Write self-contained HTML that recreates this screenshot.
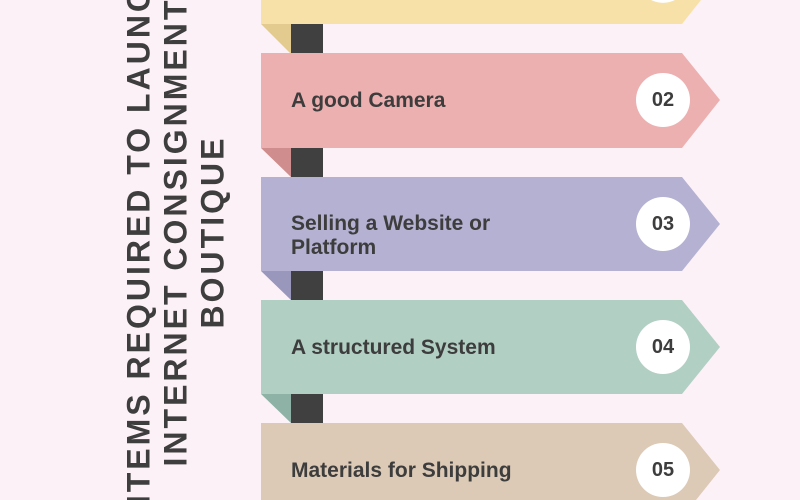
<!DOCTYPE html>
<html style="overflow:hidden;width:800px;height:500px"><head><style>
body{margin:0;width:800px;height:500px;overflow:hidden;background:#fdf1f8;font-family:"Liberation Sans",sans-serif}
.wrap{position:relative;width:800px;height:500px;overflow:hidden}
.t{position:absolute;left:291px;top:0;width:32px;height:500px;background:#404040}
.title{position:absolute;left:176px;top:232px;width:600px;transform:translate(-50%,-50%) rotate(-90deg);text-align:center;font-weight:bold;font-size:32px;line-height:37px;letter-spacing:3px;color:#3e3e3e;white-space:nowrap}
.lbl{position:absolute;left:291px;font-weight:bold;font-size:21px;color:#3d3d3d;line-height:24px}
.num{position:absolute;width:54px;height:54px;border-radius:50%;background:#fff;text-align:center;line-height:54px;font-weight:bold;font-size:20px;color:#3d3d3d;left:636px}
</style></head><body><div class="wrap">
<div class="t"></div>
<svg width="800" height="500" style="position:absolute;left:0;top:0">
<polygon points="261,0 701,0 682,24 261,24" fill="#f7e1a8"/><polygon points="261,24 291,24 291,54" fill="#e3cb90"/>
<polygon points="261,53 682,53 720,100 682,148 261,148" fill="#edb0b0"/><polygon points="261,148 291,148 291,177" fill="#d08d8d"/>
<polygon points="261,177 682,177 720,224 682,271 261,271" fill="#b4b1d2"/><polygon points="261,271 291,271 291,300" fill="#9a97bd"/>
<polygon points="261,300 682,300 720,347 682,394 261,394" fill="#b2cfc4"/><polygon points="261,394 291,394 291,423" fill="#8fb2a6"/>
<polygon points="261,423 682,423 720,470 696,500 261,500" fill="#dccab6"/>
<path d="M651,0 A27,27 0 0 0 675,0 Z" fill="#fff"/>
</svg>
<div class="title">ITEMS REQUIRED TO LAUNCH<br>INTERNET CONSIGNMENT<br>BOUTIQUE</div>
<div class="lbl" style="top:89px">A good Camera</div><div class="num" style="top:73px">02</div>
<div class="lbl" style="top:212px">Selling a Website or<br>Platform</div><div class="num" style="top:197px">03</div>
<div class="lbl" style="top:336px">A structured System</div><div class="num" style="top:320px">04</div>
<div class="lbl" style="top:459px">Materials for Shipping</div><div class="num" style="top:443px">05</div>
</div></body></html>
